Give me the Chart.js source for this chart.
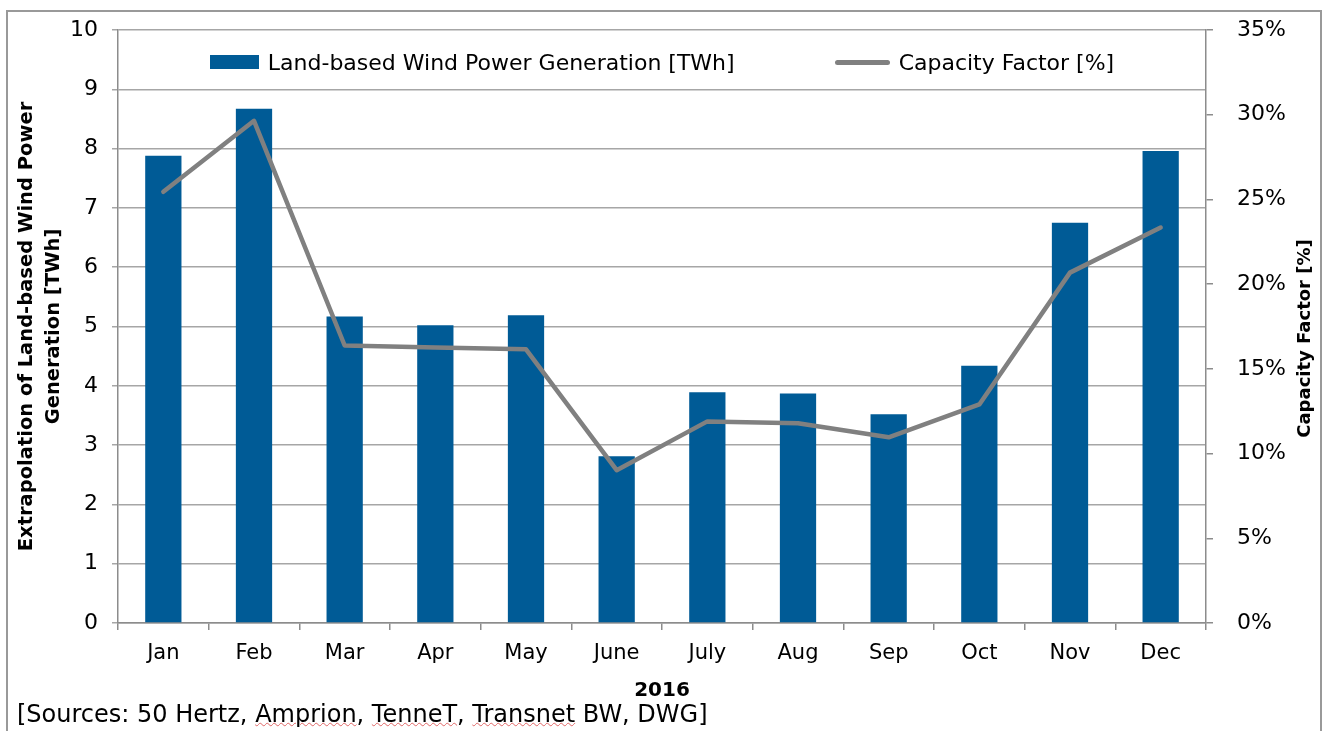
<!DOCTYPE html>
<html>
<head>
<meta charset="utf-8">
<title>Land-based Wind Power Generation 2016</title>
<script src="https://cdn.jsdelivr.net/npm/chart.js@4.4.1/dist/chart.umd.min.js"></script>
<style>
  body { margin: 0; background: #fff; }
  #wrap { position: relative; width: 1325px; height: 731px; overflow: hidden; font-family: "DejaVu Sans", sans-serif; color: #000; }
  #frame { position: absolute; left: 6px; top: 10px; width: 1316px; height: 800px; border: 2px solid #999; box-sizing: border-box; }
  #chart { position: absolute; left: 0; top: 0; }
  #legend { position: absolute; left: 118px; width: 1088px; top: 48px; height: 28px; display: flex; justify-content: center; align-items: center; gap: 100px; font-size: 22px; }
  .item { display: flex; align-items: center; white-space: nowrap; }
  .swatch { margin-right: 9px; }
  #source { position: absolute; left: 17px; top: 700px; font-size: 24px; line-height: 28px; white-space: nowrap; }
  .spell { text-decoration: underline wavy #e06666; text-decoration-thickness: 1px; text-underline-offset: 0px; }
</style>
</head>
<body>
<div id="wrap">
  <div id="frame"></div>
  <canvas id="chart" width="1325" height="731"></canvas>
  <div id="legend"></div>
  <div id="source">[Sources: 50 Hertz, <span class="spell">Amprion</span>, <span class="spell">TenneT</span>, <span class="spell">Transnet</span> BW, DWG]</div>
</div>
<script>
// values
const months = ['Jan', 'Feb', 'Mar', 'Apr', 'May', 'June', 'July', 'Aug', 'Sep', 'Oct', 'Nov', 'Dec'];
const generationTWh = [7.88, 8.67, 5.17, 5.02, 5.19, 2.81, 3.89, 3.87, 3.52, 4.34, 6.75, 7.96];
const capacityFactor = [25.45, 29.64, 16.38, 16.26, 16.15, 9.02, 11.9, 11.79, 10.96, 12.9, 20.68, 23.34];
const generationTicks = ['0', '1', '2', '3', '4', '5', '6', '7', '8', '9', '10'];
const capacityTicks = ['0%', '5%', '10%', '15%', '20%', '25%', '30%', '35%'];
const seriesNames = ['Land-based Wind Power Generation [TWh]', 'Capacity Factor [%]'];

const BLUE = '#005b96';
const LINE_GREY = '#808080';
const GRID = '#a6a6a6';
const AXIS = '#8c8c8c';
const FONT = '"DejaVu Sans", sans-serif';

Chart.defaults.font.family = FONT;
Chart.defaults.color = '#000';

// right axis title reads bottom-to-top, chart.js would rotate it the other way
const rightTitle = {
  id: 'rightTitle',
  afterDraw(chart) {
    const ctx = chart.ctx;
    const area = chart.chartArea;
    ctx.save();
    ctx.translate(chart.scales.y1.right - 20, (area.top + area.bottom) / 2 + 12);
    ctx.rotate(-Math.PI / 2);
    ctx.font = 'bold 18px ' + FONT;
    ctx.fillStyle = '#000';
    ctx.textAlign = 'center';
    ctx.textBaseline = 'middle';
    ctx.fillText(seriesNames[1], 0, 0);
    ctx.restore();
  }
};

const ctx = document.getElementById('chart').getContext('2d');
const chart = new Chart(ctx, {
  type: 'bar',
  data: {
    labels: months,
    datasets: [
      {
        type: 'line',
        label: seriesNames[1],
        data: capacityFactor,
        yAxisID: 'y1',
        borderColor: LINE_GREY,
        backgroundColor: LINE_GREY,
        borderWidth: 4.5,
        borderCapStyle: 'round',
        borderJoinStyle: 'round',
        pointRadius: 0,
        tension: 0,
        order: 0
      },
      {
        type: 'bar',
        label: seriesNames[0],
        data: generationTWh,
        yAxisID: 'y',
        backgroundColor: BLUE,
        barPercentage: 0.4,
        categoryPercentage: 1,
        order: 1
      }
    ]
  },
  options: {
    responsive: false,
    animation: false,
    layout: { padding: { top: 30, left: 0, right: 0, bottom: 0 } },
    plugins: {
      legend: { display: false },
      tooltip: { enabled: false }
    },
    scales: {
      x: {
        offset: true,
        ticks: { font: { size: 21 }, color: '#000', padding: 11 },
        grid: { offset: true, drawOnChartArea: false, tickLength: 7, color: AXIS, lineWidth: 1.5 },
        border: { color: AXIS, width: 1.5 },
        title: { display: true, text: '2016', font: { size: 20, weight: 'bold' }, color: '#000', padding: { top: 0, bottom: 28 } },
        afterFit(scale) { scale.height = 108; }
      },
      y: {
        position: 'left',
        min: 0,
        max: 10,
        ticks: {
          stepSize: 1,
          font: { size: 22 },
          color: '#000',
          padding: 14,
          callback: (v, i) => generationTicks[i]
        },
        grid: { color: GRID, lineWidth: 1.5, tickLength: 6 },
        border: { color: AXIS, width: 1.5 },
        title: {
          display: true,
          text: ['Extrapolation of Land-based Wind Power', 'Generation [TWh]'],
          font: { size: 19.5, weight: 'bold', lineHeight: 1.4 },
          color: '#000',
          padding: { top: 13, bottom: 0 }
        },
        afterFit(scale) { scale.width = 118; scale.paddingTop = 0; scale.paddingBottom = 0; }
      },
      y1: {
        position: 'right',
        min: 0,
        max: 35,
        ticks: {
          stepSize: 5,
          font: { size: 22 },
          color: '#000',
          padding: 24,
          callback: (v, i) => capacityTicks[i]
        },
        grid: { drawOnChartArea: false, color: AXIS, lineWidth: 1.5, tickLength: 7 },
        border: { color: AXIS, width: 1.5 },
        afterFit(scale) { scale.width = 119; scale.paddingTop = 0; scale.paddingBottom = 0; }
      }
    }
  },
  plugins: [rightTitle]
});

// legend sits inside the plot area like in the original, so build it by hand
const legend = document.getElementById('legend');
[chart.data.datasets[1], chart.data.datasets[0]].forEach(ds => {
  const item = document.createElement('div');
  item.className = 'item';
  const sw = document.createElement('span');
  sw.className = 'swatch';
  if (ds.type === 'bar') {
    sw.style.cssText = 'display:inline-block;width:49px;height:14px;background:' + ds.backgroundColor;
  } else {
    sw.style.cssText = 'display:inline-block;width:55px;height:5px;border-radius:3px;background:' + ds.borderColor;
  }
  item.appendChild(sw);
  item.appendChild(document.createTextNode(ds.label));
  legend.appendChild(item);
});
</script>
</body>
</html>
